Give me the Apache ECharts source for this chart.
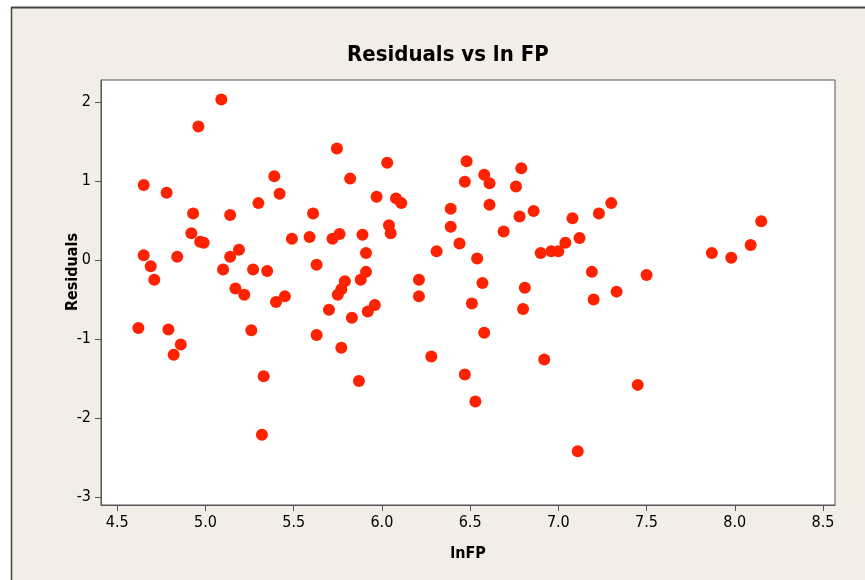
<!DOCTYPE html>
<html>
<head>
<meta charset="utf-8">
<script src="https://cdn.jsdelivr.net/npm/echarts@6/dist/echarts.min.js"></script>
<style>
html,body{margin:0;padding:0;background:#ffffff;}
#chart{width:865px;height:580px;}
</style>
</head>
<body>
<div id="chart"></div>
<script>
const lnFP = [4.62,4.65,4.65,4.69,4.71,4.78,4.79,4.82,4.84,4.86,4.92,4.93,4.96,4.97,4.99,5.09,5.10,5.14,5.14,5.17,5.19,5.22,5.26,5.27,5.30,5.32,5.33,5.35,5.39,5.40,5.42,5.45,5.49,5.59,5.61,5.63,5.63,5.70,5.72,5.745,5.75,5.76,5.77,5.77,5.79,5.82,5.83,5.87,5.88,5.89,5.91,5.91,5.92,5.96,5.97,6.03,6.04,6.05,6.08,6.11,6.21,6.21,6.28,6.31,6.39,6.39,6.44,6.47,6.47,6.48,6.51,6.53,6.54,6.57,6.58,6.58,6.61,6.61,6.69,6.76,6.78,6.79,6.80,6.81,6.86,6.90,6.92,6.96,7.00,7.04,7.08,7.11,7.12,7.19,7.20,7.23,7.30,7.33,7.45,7.50,7.87,7.98,8.09,8.15];
const residuals = [-0.86,0.95,0.06,-0.08,-0.25,0.85,-0.88,-1.20,0.04,-1.07,0.34,0.59,1.69,0.23,0.22,2.03,-0.12,0.57,0.04,-0.36,0.13,-0.44,-0.89,-0.12,0.72,-2.21,-1.47,-0.14,1.06,-0.53,0.84,-0.46,0.27,0.29,0.59,-0.06,-0.95,-0.63,0.27,1.41,-0.44,0.33,-0.37,-1.11,-0.27,1.03,-0.73,-1.53,-0.25,0.32,0.09,-0.15,-0.65,-0.57,0.80,1.23,0.44,0.34,0.78,0.72,-0.25,-0.46,-1.22,0.11,0.65,0.42,0.21,0.99,-1.45,1.25,-0.55,-1.79,0.02,-0.29,1.08,-0.92,0.97,0.70,0.36,0.93,0.55,1.16,-0.62,-0.35,0.62,0.09,-1.26,0.11,0.11,0.22,0.53,-2.42,0.28,-0.15,-0.50,0.59,0.72,-0.40,-1.58,-0.19,0.09,0.03,0.19,0.49];
const xTicks = [4.5,5.0,5.5,6.0,6.5,7.0,7.5,8.0,8.5];
const yTicks = [-3,-2,-1,0,1,2];
const titleText = 'Residuals vs ln FP';
const xName = 'lnFP';
const yName = 'Residuals';

const pts = lnFP.map((x,i)=>[x,residuals[i]]);
const chart = echarts.init(document.getElementById('chart'));
const FONT = 'DejaVu Sans Condensed';
chart.setOption({
  backgroundColor:'#ffffff',
  animation:false,
  graphic:[
    {type:'rect', z:-10, shape:{x:11,y:7,width:870,height:600}, style:{fill:'#f2eee7',stroke:null}},
    {type:'line', z:-9, shape:{x1:11,y1:7.5,x2:865,y2:7.5}, style:{stroke:'#444444',lineWidth:2}},
    {type:'line', z:-9, shape:{x1:11.5,y1:7,x2:11.5,y2:580}, style:{stroke:'#444444',lineWidth:1.5}},
    {type:'text', x:73, y:272, rotation:Math.PI/2, style:{text:yName, font:'bold 16px "DejaVu Sans Condensed"', fill:'#000', textAlign:'center', textVerticalAlign:'middle'}}
  ],
  title:{text:titleText, left:342, top:39, textStyle:{fontFamily:FONT, fontWeight:'bold', fontSize:22, color:'#000'}},
  grid:{left:101, right:30, top:80, bottom:75, show:true, backgroundColor:'#ffffff', borderColor:'#555555', borderWidth:1},
  xAxis:{
    type:'value', min:4.408, max:8.568,
    name:xName, nameLocation:'middle', nameGap:41,
    nameTextStyle:{fontFamily:FONT, fontWeight:'bold', fontSize:16, color:'#000'},
    axisLine:{show:true, onZero:false, lineStyle:{color:'#555555'}},
    axisTick:{show:true, length:6, customValues:xTicks, lineStyle:{color:'#555555'}},
    axisLabel:{customValues:xTicks, formatter:v=>v.toFixed(1), fontFamily:FONT, fontSize:16, color:'#000', margin:10},
    splitLine:{show:false}
  },
  yAxis:{
    type:'value', min:-3.10, max:2.278,
    axisLine:{show:true, onZero:false, lineStyle:{color:'#555555'}},
    axisTick:{show:true, length:6, customValues:yTicks, lineStyle:{color:'#555555'}},
    axisLabel:{customValues:yTicks, formatter:v=>String(v), fontFamily:FONT, fontSize:16, color:'#000', margin:10},
    splitLine:{show:false}
  },
  series:[{type:'scatter', data:pts, symbolSize:12, itemStyle:{color:'#ff2200', opacity:1}}]
});
</script>
</body>
</html>
